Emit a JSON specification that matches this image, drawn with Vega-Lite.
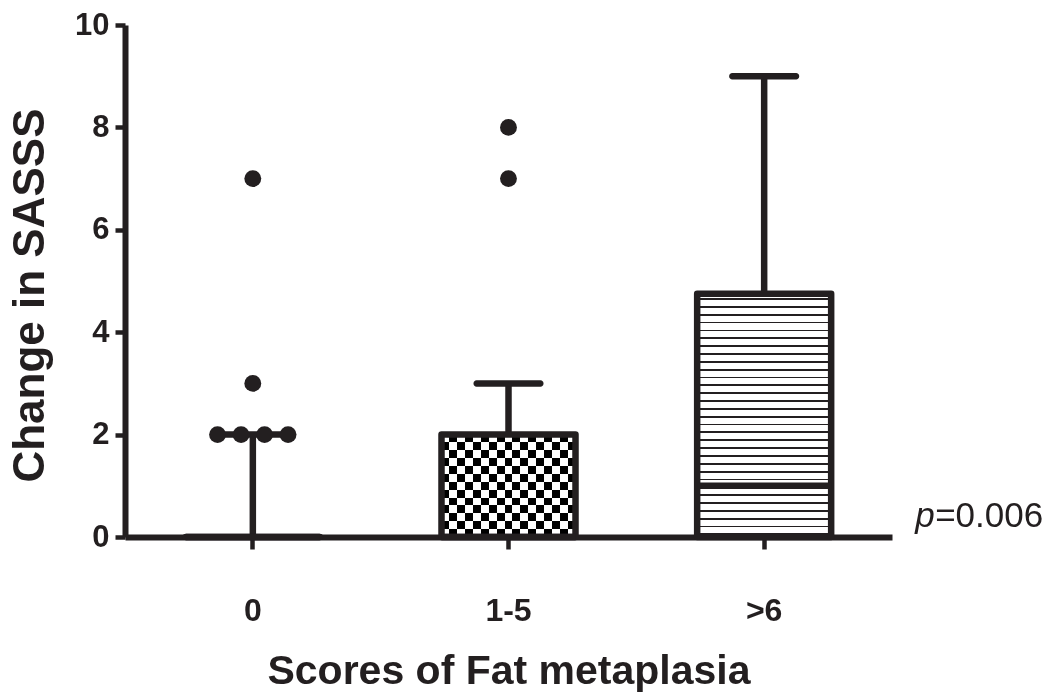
{
  "$schema": "https://vega.github.io/schema/vega-lite/v6.json",
  "width": 767,
  "height": 512,
  "autosize": "none",
  "padding": {"left": 125, "top": 25, "right": 160, "bottom": 155},
  "background": "white",
  "datasets": {
    "boxes": [
      {"group": "0", "lo": 0, "q1": 0, "med": 0, "q3": 0, "hi": 2},
      {"group": "1-5", "lo": 0, "q1": 0, "med": 0, "q3": 2, "hi": 3},
      {"group": ">6", "lo": 0, "q1": 0, "med": 1, "q3": 4.75, "hi": 9}
    ],
    "outliers": [
      {"group": "0", "value": 2, "tie": -1.5},
      {"group": "0", "value": 2, "tie": -0.5},
      {"group": "0", "value": 2, "tie": 0.5},
      {"group": "0", "value": 2, "tie": 1.5},
      {"group": "0", "value": 3, "tie": 0},
      {"group": "0", "value": 7, "tie": 0},
      {"group": "1-5", "value": 7, "tie": 0},
      {"group": "1-5", "value": 8, "tie": 0}
    ],
    "note": [{"p": "p", "rest": "=0.006"}]
  },
  "encoding": {
    "x": {
      "field": "group",
      "type": "nominal",
      "sort": ["0", "1-5", ">6"],
      "scale": {"domain": ["0", "1-5", ">6"], "paddingInner": 0, "paddingOuter": 0},
      "axis": {
        "labelAngle": 0,
        "labelFontSize": 32,
        "labelPadding": 46,
        "tickSize": 12,
        "tickWidth": 4.5,
        "domainWidth": 6,
        "title": "Scores of Fat metaplasia",
        "titleFontSize": 41,
        "titlePadding": 25
      }
    }
  },
  "layer": [
    {
      "data": {"name": "boxes"},
      "mark": {"type": "rule", "strokeWidth": 6.5, "color": "#231f20"},
      "encoding": {
        "y": {
          "field": "q3",
          "type": "quantitative",
          "title": "Change in SASSS",
          "scale": {"domain": [0, 10], "nice": false, "zero": true},
          "axis": {
            "values": [0, 2, 4, 6, 8, 10],
            "labelFontSize": 31,
            "labelPadding": 6,
            "tickSize": 10,
            "tickWidth": 4.5,
            "domainWidth": 6,
            "grid": false,
            "titleFontSize": 44,
            "titleX": -82,
            "titleY": 270,
            "titleAngle": -90,
            "titleAlign": "center",
            "titleBaseline": "alphabetic"
          }
        },
        "y2": {"field": "hi"}
      }
    },
    {
      "data": {"name": "boxes"},
      "mark": {"type": "tick", "size": 70, "thickness": 6.5, "cornerRadius": 3, "color": "#231f20", "opacity": 1},
      "encoding": {
        "y": {"field": "hi", "type": "quantitative", "title": "Change in SASSS"}
      }
    },
    {
      "data": {"name": "boxes"},
      "transform": [{"filter": "datum.group === '1-5'"}],
      "mark": {
        "type": "bar",
        "width": 134,
        "fill": {
          "gradient": "linear", "x1": 0, "y1": 0, "x2": 0, "y2": 1,
          "stops": [
            {"offset": 0, "color": "black"}, {"offset": 0.0769, "color": "black"},
            {"offset": 0.0769, "color": "white"}, {"offset": 0.1538, "color": "white"},
            {"offset": 0.1538, "color": "black"}, {"offset": 0.2308, "color": "black"},
            {"offset": 0.2308, "color": "white"}, {"offset": 0.3077, "color": "white"},
            {"offset": 0.3077, "color": "black"}, {"offset": 0.3846, "color": "black"},
            {"offset": 0.3846, "color": "white"}, {"offset": 0.4615, "color": "white"},
            {"offset": 0.4615, "color": "black"}, {"offset": 0.5385, "color": "black"},
            {"offset": 0.5385, "color": "white"}, {"offset": 0.6154, "color": "white"},
            {"offset": 0.6154, "color": "black"}, {"offset": 0.6923, "color": "black"},
            {"offset": 0.6923, "color": "white"}, {"offset": 0.7692, "color": "white"},
            {"offset": 0.7692, "color": "black"}, {"offset": 0.8462, "color": "black"},
            {"offset": 0.8462, "color": "white"}, {"offset": 0.9231, "color": "white"},
            {"offset": 0.9231, "color": "black"}, {"offset": 1, "color": "black"}
          ]
        }
      },
      "encoding": {
        "y": {"field": "q1", "type": "quantitative", "title": "Change in SASSS"},
        "y2": {"field": "q3"}
      }
    },
    {
      "data": {"name": "boxes"},
      "transform": [{"filter": "datum.group === '1-5'"}],
      "mark": {
        "type": "bar",
        "width": 134,
        "blend": "difference",
        "fill": {
          "gradient": "linear", "x1": 0, "y1": 0, "x2": 1, "y2": 0,
          "stops": [
            {"offset": 0, "color": "white"}, {"offset": 0.0588, "color": "white"},
            {"offset": 0.0588, "color": "black"}, {"offset": 0.1176, "color": "black"},
            {"offset": 0.1176, "color": "white"}, {"offset": 0.1765, "color": "white"},
            {"offset": 0.1765, "color": "black"}, {"offset": 0.2353, "color": "black"},
            {"offset": 0.2353, "color": "white"}, {"offset": 0.2941, "color": "white"},
            {"offset": 0.2941, "color": "black"}, {"offset": 0.3529, "color": "black"},
            {"offset": 0.3529, "color": "white"}, {"offset": 0.4118, "color": "white"},
            {"offset": 0.4118, "color": "black"}, {"offset": 0.4706, "color": "black"},
            {"offset": 0.4706, "color": "white"}, {"offset": 0.5294, "color": "white"},
            {"offset": 0.5294, "color": "black"}, {"offset": 0.5882, "color": "black"},
            {"offset": 0.5882, "color": "white"}, {"offset": 0.6471, "color": "white"},
            {"offset": 0.6471, "color": "black"}, {"offset": 0.7059, "color": "black"},
            {"offset": 0.7059, "color": "white"}, {"offset": 0.7647, "color": "white"},
            {"offset": 0.7647, "color": "black"}, {"offset": 0.8235, "color": "black"},
            {"offset": 0.8235, "color": "white"}, {"offset": 0.8824, "color": "white"},
            {"offset": 0.8824, "color": "black"}, {"offset": 0.9412, "color": "black"},
            {"offset": 0.9412, "color": "white"}, {"offset": 1, "color": "white"}
          ]
        }
      },
      "encoding": {
        "y": {"field": "q1", "type": "quantitative", "title": "Change in SASSS"},
        "y2": {"field": "q3"}
      }
    },
    {
      "data": {"name": "boxes"},
      "transform": [{"filter": "datum.group === '>6'"}],
      "mark": {
        "type": "bar",
        "width": 134,
        "fill": {
          "gradient": "linear", "x1": 0, "y1": 0, "x2": 0, "y2": 1,
          "stops": [
            {"offset": 0.0177, "color": "white"}, {"offset": 0.0177, "color": "#231f20"}, {"offset": 0.0252, "color": "#231f20"}, {"offset": 0.0252, "color": "white"},
            {"offset": 0.0500, "color": "white"}, {"offset": 0.0500, "color": "#231f20"}, {"offset": 0.0574, "color": "#231f20"}, {"offset": 0.0574, "color": "white"},
            {"offset": 0.0823, "color": "white"}, {"offset": 0.0823, "color": "#231f20"}, {"offset": 0.0897, "color": "#231f20"}, {"offset": 0.0897, "color": "white"},
            {"offset": 0.1145, "color": "white"}, {"offset": 0.1145, "color": "#231f20"}, {"offset": 0.1219, "color": "#231f20"}, {"offset": 0.1219, "color": "white"},
            {"offset": 0.1468, "color": "white"}, {"offset": 0.1468, "color": "#231f20"}, {"offset": 0.1542, "color": "#231f20"}, {"offset": 0.1542, "color": "white"},
            {"offset": 0.1790, "color": "white"}, {"offset": 0.1790, "color": "#231f20"}, {"offset": 0.1865, "color": "#231f20"}, {"offset": 0.1865, "color": "white"},
            {"offset": 0.2113, "color": "white"}, {"offset": 0.2113, "color": "#231f20"}, {"offset": 0.2187, "color": "#231f20"}, {"offset": 0.2187, "color": "white"},
            {"offset": 0.2435, "color": "white"}, {"offset": 0.2435, "color": "#231f20"}, {"offset": 0.2510, "color": "#231f20"}, {"offset": 0.2510, "color": "white"},
            {"offset": 0.2758, "color": "white"}, {"offset": 0.2758, "color": "#231f20"}, {"offset": 0.2832, "color": "#231f20"}, {"offset": 0.2832, "color": "white"},
            {"offset": 0.3081, "color": "white"}, {"offset": 0.3081, "color": "#231f20"}, {"offset": 0.3155, "color": "#231f20"}, {"offset": 0.3155, "color": "white"},
            {"offset": 0.3403, "color": "white"}, {"offset": 0.3403, "color": "#231f20"}, {"offset": 0.3477, "color": "#231f20"}, {"offset": 0.3477, "color": "white"},
            {"offset": 0.3726, "color": "white"}, {"offset": 0.3726, "color": "#231f20"}, {"offset": 0.3800, "color": "#231f20"}, {"offset": 0.3800, "color": "white"},
            {"offset": 0.4048, "color": "white"}, {"offset": 0.4048, "color": "#231f20"}, {"offset": 0.4123, "color": "#231f20"}, {"offset": 0.4123, "color": "white"},
            {"offset": 0.4371, "color": "white"}, {"offset": 0.4371, "color": "#231f20"}, {"offset": 0.4445, "color": "#231f20"}, {"offset": 0.4445, "color": "white"},
            {"offset": 0.4694, "color": "white"}, {"offset": 0.4694, "color": "#231f20"}, {"offset": 0.4768, "color": "#231f20"}, {"offset": 0.4768, "color": "white"},
            {"offset": 0.5016, "color": "white"}, {"offset": 0.5016, "color": "#231f20"}, {"offset": 0.5090, "color": "#231f20"}, {"offset": 0.5090, "color": "white"},
            {"offset": 0.5339, "color": "white"}, {"offset": 0.5339, "color": "#231f20"}, {"offset": 0.5413, "color": "#231f20"}, {"offset": 0.5413, "color": "white"},
            {"offset": 0.5661, "color": "white"}, {"offset": 0.5661, "color": "#231f20"}, {"offset": 0.5735, "color": "#231f20"}, {"offset": 0.5735, "color": "white"},
            {"offset": 0.5984, "color": "white"}, {"offset": 0.5984, "color": "#231f20"}, {"offset": 0.6058, "color": "#231f20"}, {"offset": 0.6058, "color": "white"},
            {"offset": 0.6306, "color": "white"}, {"offset": 0.6306, "color": "#231f20"}, {"offset": 0.6381, "color": "#231f20"}, {"offset": 0.6381, "color": "white"},
            {"offset": 0.6629, "color": "white"}, {"offset": 0.6629, "color": "#231f20"}, {"offset": 0.6703, "color": "#231f20"}, {"offset": 0.6703, "color": "white"},
            {"offset": 0.6952, "color": "white"}, {"offset": 0.6952, "color": "#231f20"}, {"offset": 0.7026, "color": "#231f20"}, {"offset": 0.7026, "color": "white"},
            {"offset": 0.7274, "color": "white"}, {"offset": 0.7274, "color": "#231f20"}, {"offset": 0.7348, "color": "#231f20"}, {"offset": 0.7348, "color": "white"},
            {"offset": 0.7597, "color": "white"}, {"offset": 0.7597, "color": "#231f20"}, {"offset": 0.7671, "color": "#231f20"}, {"offset": 0.7671, "color": "white"},
            {"offset": 0.7919, "color": "white"}, {"offset": 0.7919, "color": "#231f20"}, {"offset": 0.7994, "color": "#231f20"}, {"offset": 0.7994, "color": "white"},
            {"offset": 0.8242, "color": "white"}, {"offset": 0.8242, "color": "#231f20"}, {"offset": 0.8316, "color": "#231f20"}, {"offset": 0.8316, "color": "white"},
            {"offset": 0.8565, "color": "white"}, {"offset": 0.8565, "color": "#231f20"}, {"offset": 0.8639, "color": "#231f20"}, {"offset": 0.8639, "color": "white"},
            {"offset": 0.8887, "color": "white"}, {"offset": 0.8887, "color": "#231f20"}, {"offset": 0.8961, "color": "#231f20"}, {"offset": 0.8961, "color": "white"},
            {"offset": 0.9210, "color": "white"}, {"offset": 0.9210, "color": "#231f20"}, {"offset": 0.9284, "color": "#231f20"}, {"offset": 0.9284, "color": "white"},
            {"offset": 0.9532, "color": "white"}, {"offset": 0.9532, "color": "#231f20"}, {"offset": 0.9606, "color": "#231f20"}, {"offset": 0.9606, "color": "white"},
            {"offset": 0.9855, "color": "white"}, {"offset": 0.9855, "color": "#231f20"}, {"offset": 0.9929, "color": "#231f20"}, {"offset": 0.9929, "color": "white"}
          ]
        }
      },
      "encoding": {
        "y": {"field": "q1", "type": "quantitative", "title": "Change in SASSS"},
        "y2": {"field": "q3"}
      }
    },
    {
      "data": {"name": "boxes"},
      "mark": {
        "type": "bar",
        "width": 134,
        "fill": "white",
        "fillOpacity": 0,
        "stroke": "#231f20",
        "strokeWidth": 6.5,
        "strokeJoin": "round"
      },
      "encoding": {
        "y": {"field": "q1", "type": "quantitative", "title": "Change in SASSS"},
        "y2": {"field": "q3"}
      }
    },
    {
      "data": {"name": "boxes"},
      "mark": {"type": "tick", "size": 134, "thickness": 6.5, "color": "#231f20", "opacity": 1},
      "encoding": {
        "y": {"field": "med", "type": "quantitative", "title": "Change in SASSS"}
      }
    },
    {
      "data": {"name": "outliers"},
      "mark": {"type": "point", "shape": "circle", "filled": true, "size": 285, "color": "#231f20", "opacity": 1},
      "encoding": {
        "xOffset": {
          "field": "tie",
          "type": "quantitative",
          "scale": {"domain": [-2, 2], "range": [80.8, 174.8]}
        },
        "y": {"field": "value", "type": "quantitative", "title": "Change in SASSS"}
      }
    },
    {
      "data": {"name": "note"},
      "mark": {"type": "text", "font": "Liberation Sans", "fontSize": 35, "fontStyle": "italic", "align": "left", "baseline": "alphabetic", "dx": 151, "dy": -10, "color": "#231f20"},
      "encoding": {
        "x": {"datum": ">6"},
        "y": {"datum": 0},
        "text": {"field": "p"}
      }
    },
    {
      "data": {"name": "note"},
      "mark": {"type": "text", "font": "Liberation Sans", "fontSize": 35, "align": "left", "baseline": "alphabetic", "dx": 171, "dy": -10, "color": "#231f20"},
      "encoding": {
        "x": {"datum": ">6"},
        "y": {"datum": 0},
        "text": {"field": "rest"}
      }
    }
  ],
  "config": {
    "view": {"stroke": null},
    "axis": {
      "domainColor": "#231f20",
      "tickColor": "#231f20",
      "labelColor": "#231f20",
      "titleColor": "#231f20",
      "labelFont": "Liberation Sans",
      "titleFont": "Liberation Sans",
      "labelFontWeight": "bold",
      "titleFontWeight": "bold",
      "grid": false
    }
  }
}
